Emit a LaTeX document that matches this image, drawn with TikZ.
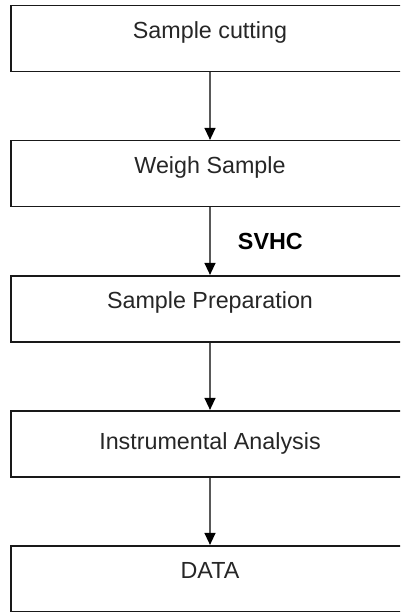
\documentclass[tikz,border=0pt]{standalone}
\usepackage{fontspec}
\setmainfont{Liberation Sans}
\usetikzlibrary{arrows.meta}

\begin{document}
\begin{tikzpicture}[x=1pt, y=-1pt, node distance=135pt,
  >={Triangle[width=11pt,length=12pt,color=black]},
  stage/.style={draw=black!90, line width=1.6pt, minimum width=398pt,
    minimum height=66pt, inner sep=0pt, text=black!85,
    font=\fontsize{23.3}{28}\selectfont},
  upper/.style={text height=16.7pt, text depth=16.7pt},
  flow/.style={->, line width=1.3pt, draw=black!65}]

  \useasboundingbox (0,0) rectangle (400,612);
  \clip (0,0) rectangle (400,612);

  \node [stage, upper] (S1) at (210,38.7) {Sample cutting};
  \node [stage, upper, below of = S1] (S2) {Weigh Sample};
  \node [stage, upper, below of = S2] (S3) {Sample Preparation};
  \node [stage, below of = S3] (S4) {Instrumental Analysis};
  \node [stage, upper, below of = S4] (S5) {DATA};

  \draw [flow] (S1) -- (S2);
  \draw [flow] (S2) -- node[right=24pt, font=\fontsize{23.3}{28}\selectfont\bfseries] {SVHC} (S3);
  \draw [flow] (S3) -- (S4);
  \draw [flow] (S4) -- (S5);

\end{tikzpicture}
\end{document}
